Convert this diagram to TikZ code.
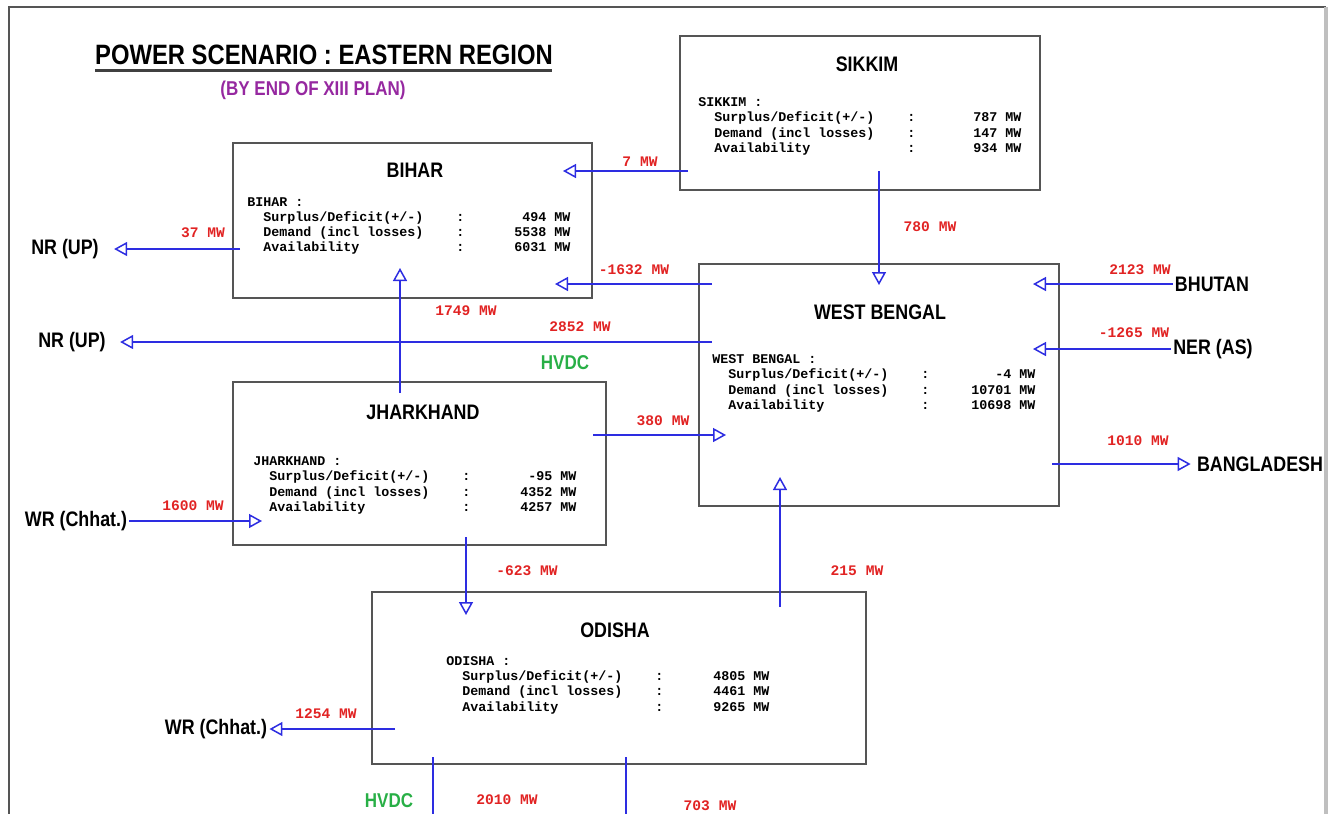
\documentclass[tikz,border=0pt]{standalone}
\usepackage{fontspec}
\setmainfont{Liberation Sans}
\newfontfamily\headfont[FakeStretch=0.85]{Liberation Sans}
\newfontfamily\datafont{Liberation Mono}
\usetikzlibrary{arrows.meta,fit}
\definecolor{flowblue}{RGB}{45,45,225}
\definecolor{mwred}{RGB}{225,35,35}
\definecolor{hvdcgreen}{RGB}{40,175,70}
\definecolor{planpurple}{RGB}{150,40,160}
\definecolor{boxgray}{RGB}{85,85,85}
\newcommand{\statrow}[2]{\hspace*{8pt}\makebox[96.5pt][l]{#1}:\makebox[53pt][r]{#2}}
\newcommand{\stats}[4]{#1 :\\ \statrow{Surplus/Deficit(+/-)}{#2}\\
  \statrow{Demand (incl losses)}{#3}\\ \statrow{Availability}{#4}}
\tikzset{>={Triangle[open,length=6.5pt,width=7pt]},
    flow/.style={->, draw=flowblue, line width=0.75pt},
    tie/.style={draw=flowblue, line width=0.75pt},
    statebox/.style={draw=boxgray, line width=0.9pt, inner sep=0pt},
    boxtitle/.style={font=\headfont\bfseries\fontsize{10.5}{12}\selectfont},
    place/.style={font=\headfont\bfseries\fontsize{10.5}{12}\selectfont, inner sep=1pt},
    mw/.style={font=\datafont\bfseries\fontsize{7.3}{8}\selectfont, text=mwred, inner sep=0pt},
    hvdc/.style={font=\headfont\bfseries\fontsize{10}{12}\selectfont, text=hvdcgreen},
    data/.style={font=\datafont\bfseries\fontsize{6.67}{7.65}\selectfont, align=left,
      anchor=west, inner sep=0pt}}

\begin{document}
\begin{tikzpicture}[x=0.5pt, y=-0.5pt]
    \useasboundingbox (0,0) rectangle (1334,814);
    % page frame
    \draw[boxgray, line width=0.6pt] (9,814) -- (9,7) -- (1326,7);
    \draw[black!25, line width=2pt] (1326,7) -- (1326,814);

    % heading
    \node[font=\headfont\bfseries\fontsize{14}{16}\selectfont] (title) at (324,55) {POWER SCENARIO : EASTERN REGION};
    \draw[black!75, line width=1.5pt] (95,70) -- (552,70);
    \node[font=\headfont\bfseries\fontsize{10}{12}\selectfont, text=planpurple] (plan) at (313,90) {(BY END OF XIII PLAN)};

    % state boxes
    \node[statebox, fit={(680,36) (1040,190)}] (sikkim) {};
    \node[statebox, fit={(233,143) (592,298)}] (bihar) {};
    \node[statebox, fit={(699,264) (1059,506)}] (wbengal) {};
    \node[statebox, fit={(233,382) (606,545)}] (jharkhand) {};
    \node[statebox, fit={(372,592) (866,764)}] (odisha) {};

    \node[boxtitle] (sikkim-t) at (867,64) {SIKKIM};
    \node[boxtitle] (bihar-t) at (415,170) {BIHAR};
    \node[boxtitle] (wbengal-t) at (880,312) {WEST BENGAL};
    \node[boxtitle] (jharkhand-t) at (423,412) {JHARKHAND};
    \node[boxtitle] (odisha-t) at (615,630) {ODISHA};

    \node[data] (sikkim-d) at (698,126.5) {\stats{SIKKIM}{787 MW}{147 MW}{934 MW}};
    \node[data] (bihar-d) at (247,226) {\stats{BIHAR}{494 MW}{5538 MW}{6031 MW}};
    \node[data] (wbengal-d) at (712,383.5) {\stats{WEST BENGAL}{-4 MW}{10701 MW}{10698 MW}};
    \node[data] (jharkhand-d) at (253,485.5) {\stats{JHARKHAND}{-95 MW}{4352 MW}{4257 MW}};
    \node[data] (odisha-d) at (446,685) {\stats{ODISHA}{4805 MW}{4461 MW}{9265 MW}};

    % neighbours
    \node[place, inner xsep=7.5pt] (nrup-a) at (65,249) {NR (UP)};
    \node[place, inner xsep=7pt] (nrup-b) at (72,342) {NR (UP)};
    \node[place] (wrch-a) at (76,521) {WR (Chhat.)};
    \node[place] (wrch-b) at (216,729) {WR (Chhat.)};
    \node[place] (bhutan) at (1212,284) {BHUTAN};
    \node[place] (ner) at (1213,349) {NER (AS)};
    \node[place, inner xsep=3pt] (bangla) at (1260,464) {BANGLADESH};

    % flow ends
    \coordinate (sk-w) at (688,171);
    \coordinate (sk-s) at (879,171);
    \coordinate (bh-e1) at (563,171);
    \coordinate (bh-e2) at (555,284);
    \coordinate (bh-w) at (240,249);
    \coordinate (bh-s) at (400,268);
    \coordinate (wb-n) at (879,285);
    \coordinate (wb-w1) at (712,284);
    \coordinate (wb-w2) at (712,342);
    \coordinate (wb-w3) at (726,435);
    \coordinate (wb-s) at (780,477);
    \coordinate (wb-e1) at (1033,284);
    \coordinate (wb-e2) at (1033,349);
    \coordinate (wb-e3) at (1052,464);
    \coordinate (jh-n) at (400,393);
    \coordinate (jh-e) at (593,435);
    \coordinate (jh-w) at (262,521);
    \coordinate (jh-s) at (466,537);
    \coordinate (od-n1) at (466,615);
    \coordinate (od-n2) at (780,607);
    \coordinate (od-w) at (395,729);
    \coordinate (od-s1) at (433,757);
    \coordinate (od-s2) at (626,757);
    \coordinate (cut-a) at (433,814);
    \coordinate (cut-b) at (626,814);

    % flows
    \draw[flow] (sk-w) -- (bh-e1);
    \draw[flow] (sk-s) -- (wb-n);
    \draw[flow] (wb-w1) -- (bh-e2);
    \draw[flow] (bh-w) -- (nrup-a);
    \draw[flow] (wb-w2) -- (nrup-b);
    \draw[flow] (jh-n) -- (bh-s);
    \draw[flow] (jh-e) -- (wb-w3);
    \draw[flow] (wrch-a) -- (jh-w);
    \draw[flow] (jh-s) -- (od-n1);
    \draw[flow] (od-n2) -- (wb-s);
    \draw[flow] (bhutan) -- (wb-e1);
    \draw[flow] (ner) -- (wb-e2);
    \draw[flow] (wb-e3) -- (bangla);
    \draw[flow] (od-w) -- (wrch-b);
    \draw[tie] (od-s1) -- (cut-a);
    \draw[tie] (od-s2) -- (cut-b);

    % flow values
    \node[mw] (v-skbh) at (640,162) {7 MW};
    \node[mw] (v-skwb) at (930,227) {780 MW};
    \node[mw] (v-wbbh) at (634,270) {-1632 MW};
    \node[mw] (v-bhnr) at (203,233) {37 MW};
    \node[mw] (v-jhbh) at (466,311) {1749 MW};
    \node[mw] (v-wbnr) at (580,327) {2852 MW};
    \node[hvdc] (hvdc-a) at (565,363) {HVDC};
    \node[mw] (v-jhwb) at (663,421) {380 MW};
    \node[mw] (v-wrjh) at (193,506) {1600 MW};
    \node[mw] (v-jhod) at (527,571) {-623 MW};
    \node[mw] (v-odwb) at (857,571) {215 MW};
    \node[mw] (v-bhut) at (1140,270) {2123 MW};
    \node[mw] (v-ner) at (1134,333) {-1265 MW};
    \node[mw] (v-bang) at (1138,441) {1010 MW};
    \node[mw] (v-odwr) at (326,714) {1254 MW};
    \node[hvdc] (hvdc-b) at (389,801) {HVDC};
    \node[mw] (v-hvdc) at (507,800) {2010 MW};
    \node[mw] (v-south) at (710,806) {703 MW};
\end{tikzpicture}
\end{document}
